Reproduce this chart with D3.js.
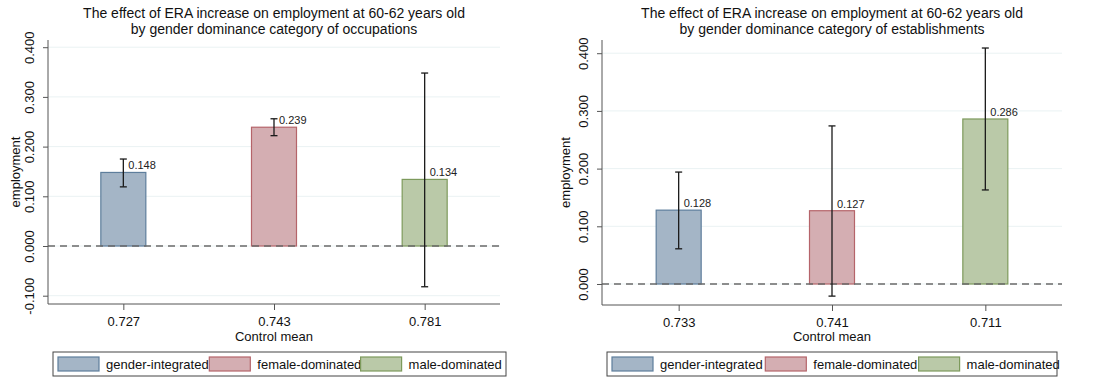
<!DOCTYPE html>
<html>
<head>
<meta charset="utf-8">
<script src="https://cdn.jsdelivr.net/npm/d3@7"></script>
<style>
  body { margin: 0; background: #fff; }
  svg { font-family: "Liberation Sans", Arial, sans-serif; }
</style>
</head>
<body>
<svg id="chart" width="1103" height="379"></svg>
<script>
// categories shared by both panels
var groups = ["gender-integrated", "female-dominated", "male-dominated"];

// left panel: occupations
var occTitle = ["The effect of ERA increase on employment at 60-62 years old",
                "by gender dominance category of occupations"];
var occMeans = ["0.727", "0.743", "0.781"];
var occCoef = [0.148, 0.239, 0.134];
var occLow = [0.119, 0.222, -0.082];
var occHigh = [0.175, 0.256, 0.348];
var occTicks = [-0.1, 0, 0.1, 0.2, 0.3, 0.4];

// right panel: establishments
var estTitle = ["The effect of ERA increase on employment at 60-62 years old",
                "by gender dominance category of establishments"];
var estMeans = ["0.733", "0.741", "0.711"];
var estCoef = [0.128, 0.127, 0.286];
var estLow = [0.061, -0.021, 0.163];
var estHigh = [0.194, 0.274, 0.409];
var estTicks = [0, 0.1, 0.2, 0.3, 0.4];

var fills = ["#a4b5c6", "#d4aeb2", "#bac9a8"];
var strokes = ["#5e7e9c", "#b5646a", "#7d9a5c"];

var svg = d3.select("#chart");
var fmt3 = function(v){ return d3.format(".3f")(v).replace("\u2212", "-"); };

function drawPanel(opts) {
  var g = svg.append("g");
  var x = d3.scalePoint().domain(opts.means.map(function(d, i){ return i; }))
    .range([opts.left, opts.right]).padding(0.5);
  var y = d3.scaleLinear().domain(opts.yDomain).range([opts.bottom, opts.top]);
  var barW = 45;

  // grid
  g.selectAll(".grid").data(opts.ticks).enter().append("line")
    .attr("x1", opts.left).attr("x2", opts.right)
    .attr("y1", function(d){ return y(d); }).attr("y2", function(d){ return y(d); })
    .style("stroke", "#eaf2f3").style("stroke-width", 1);

  // bars
  g.selectAll(".bar").data(opts.coef).enter().append("rect")
    .attr("x", function(d, i){ return x(i) - barW / 2; })
    .attr("y", function(d){ return y(d); })
    .attr("width", barW)
    .attr("height", function(d){ return y(0) - y(d); })
    .style("fill", function(d, i){ return fills[i]; })
    .style("stroke", function(d, i){ return strokes[i]; })
    .style("stroke-width", 1.2);

  // zero line
  g.append("line")
    .attr("x1", opts.left).attr("x2", opts.right)
    .attr("y1", y(0)).attr("y2", y(0))
    .style("stroke", "#6a6a6a").style("stroke-width", 1.3)
    .style("stroke-dasharray", "7,5");

  // error bars
  opts.coef.forEach(function(c, i) {
    var cx = x(i);
    g.append("line").attr("x1", cx).attr("x2", cx)
      .attr("y1", y(opts.low[i])).attr("y2", y(opts.high[i]))
      .style("stroke", "#1a1a1a").style("stroke-width", 1.3);
    [opts.low[i], opts.high[i]].forEach(function(v) {
      g.append("line").attr("x1", cx - 3.5).attr("x2", cx + 3.5)
        .attr("y1", y(v)).attr("y2", y(v))
        .style("stroke", "#1a1a1a").style("stroke-width", 1.3);
    });
    g.append("text").attr("x", cx + 5).attr("y", y(c) - 3)
      .style("font-size", "11px").style("fill", "#222")
      .text(fmt3(c));
  });

  // y axis
  var yAxis = d3.axisLeft(y).tickValues(opts.ticks).tickFormat(fmt3).tickSize(5).tickSizeOuter(0);
  var ya = g.append("g").attr("transform", "translate(" + opts.left + ",0)").call(yAxis);
  ya.select(".domain").style("stroke", "#555").attr("d", "M0," + (opts.top) + "V" + opts.bottom);
  ya.selectAll(".tick line").style("stroke", "#555");
  ya.selectAll(".tick text")
    .attr("transform", "rotate(-90)")
    .attr("x", 0).attr("y", -14).attr("dy", 0)
    .style("text-anchor", "middle").style("font-size", "13px")
    .style("font-family", "Liberation Sans, Arial, sans-serif").style("fill", "#111");

  // x axis
  var xAxis = d3.axisBottom(x).tickFormat(function(i){ return opts.means[i]; }).tickSize(6).tickSizeOuter(0);
  var xa = g.append("g").attr("transform", "translate(0," + opts.bottom + ")").call(xAxis);
  xa.select(".domain").style("stroke", "#555").attr("d", "M" + opts.left + ",0H" + opts.right);
  xa.selectAll(".tick line").style("stroke", "#555");
  xa.selectAll(".tick text").attr("y", 10).attr("dy", "0.9em")
    .style("font-size", "13px").style("font-family", "Liberation Sans, Arial, sans-serif").style("fill", "#111");

  // labels
  var mid = (opts.left + opts.right) / 2;
  g.append("text").attr("x", mid).attr("y", 341).style("text-anchor", "middle")
    .style("font-size", "13px").style("fill", "#111").text("Control mean");
  g.append("text").attr("transform", "translate(" + opts.ylabX + "," + ((opts.top + opts.bottom) / 2) + ") rotate(-90)")
    .attr("dy", "0.35em").style("text-anchor", "middle")
    .style("font-size", "13px").style("fill", "#111").text("employment");
  opts.title.forEach(function(t, k) {
    g.append("text").attr("x", mid).attr("y", 18 + k * 16).style("text-anchor", "middle")
      .style("font-size", "14px").style("fill", "#111").text(t);
  });

  // legend
  var lg = g.append("g");
  lg.append("rect").attr("x", opts.legLeft).attr("y", 352)
    .attr("width", opts.legWidth).attr("height", 24)
    .style("fill", "#fff").style("stroke", "#444").style("stroke-width", 1);
  groups.forEach(function(name, i) {
    var lx = opts.legLeft + 5 + i * opts.legStep;
    lg.append("rect").attr("x", lx).attr("y", 357).attr("width", 41).attr("height", 14)
      .style("fill", fills[i]).style("stroke", strokes[i]).style("stroke-width", 1.2);
    lg.append("text").attr("x", lx + 48).attr("y", 369)
      .style("font-size", "13px").style("fill", "#111").text(name);
  });
}

drawPanel({
  title: occTitle, means: occMeans, coef: occCoef, low: occLow, high: occHigh, ticks: occTicks,
  left: 48, right: 500, top: 40, bottom: 304, yDomain: [-0.1167, 0.4145],
  ylabX: 15, legLeft: 53, legWidth: 453, legStep: 151.3
});

drawPanel({
  title: estTitle, means: estMeans, coef: estCoef, low: estLow, high: estHigh, ticks: estTicks,
  left: 602, right: 1062, top: 40, bottom: 305, yDomain: [-0.0364, 0.4229],
  ylabX: 565, legLeft: 607, legWidth: 450, legStep: 153.3
});
</script>
</body>
</html>
